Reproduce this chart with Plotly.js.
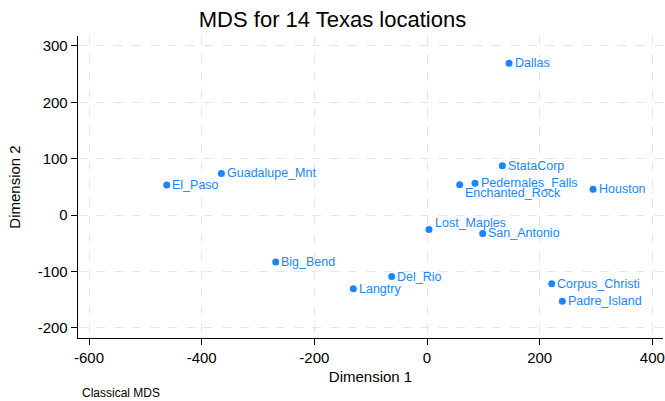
<!DOCTYPE html>
<html>
<head>
<meta charset="utf-8">
<script src="https://cdn.plot.ly/plotly-3.0.1.min.js"></script>
<style>html,body{margin:0;padding:0;background:#fff;}#chart{width:665px;height:401px;}</style>
</head>
<body>
<div id="chart"></div>
<script>
const locations = ["Dallas","StataCorp","Pedernales_Falls","Enchanted_Rock","Houston","Guadalupe_Mnt","El_Paso","Big_Bend","Langtry","Del_Rio","Lost_Maples","San_Antonio","Corpus_Christi","Padre_Island"];
const dim1 = [145.6, 133.7, 85.2, 58.0, 294.7, -365.0, -462.0, -268.6, -130.8, -62.7, 3.5, 98.8, 221.3, 240.2];
const dim2 = [269.0, 87.4, 56.2, 53.7, 45.6, 73.9, 53.2, -83.3, -130.7, -109.0, -25.4, -32.5, -121.8, -153.0];
const xTicks = [-600, -400, -200, 0, 200, 400];
const yTicks = [-200, -100, 0, 100, 200, 300];

// label placement offsets in pixels (style, not data)
const labelShift = {"Enchanted_Rock": -8, "Lost_Maples": 6.5};

const blue = "#1a85ff";
const FONT = "Liberation Sans, Arial, sans-serif";
const trace = {
  x: dim1, y: dim2, text: locations,
  type: "scatter", mode: "markers",
  marker: {color: blue, size: 7},
  hoverinfo: "none", cliponaxis: false
};
const labelAnnotations = locations.map((name, i) => ({
  x: dim1[i], y: dim2[i], xref: "x", yref: "y", text: name,
  showarrow: false, xanchor: "left", yanchor: "middle",
  xshift: 3.5, yshift: labelShift[name] || 0,
  font: {family: FONT, size: 12.5, color: blue}
}));
const axisCommon = {
  showline: true, linecolor: "#000", linewidth: 1.3,
  ticks: "outside", ticklen: 6, tickcolor: "#000", tickwidth: 1,
  showgrid: true, gridcolor: "#e6e6e6", griddash: "dash", gridwidth: 1,
  zeroline: false, mirror: false,
  tickfont: {family: FONT, size: 15, color: "#000"},
  tickmode: "array"
};
const layout = {
  width: 665, height: 401,
  margin: {l: 78, r: 2, t: 36, b: 63},
  paper_bgcolor: "#fff", plot_bgcolor: "#fff",
  showlegend: false,
  title: {text: "MDS for 14 Texas locations", x: 0.5, xref: "container", xanchor: "center",
          y: 1 - 19/401, yref: "container", yanchor: "middle",
          font: {family: FONT, size: 22, color: "#000"}},
  xaxis: Object.assign({}, axisCommon, {
    range: [-619.6, 418.9], tickvals: xTicks, ticktext: xTicks.map(String),
    title: {text: "Dimension 1", standoff: 6, font: {family: FONT, size: 15, color: "#000"}}
  }),
  yaxis: Object.assign({}, axisCommon, {
    range: [-218, 317.5], tickvals: yTicks, ticktext: yTicks.map(String),
    title: {text: "Dimension 2", standoff: 13, font: {family: FONT, size: 15, color: "#000"}}
  }),
  annotations: labelAnnotations.concat([{
    text: "Classical MDS", xref: "paper", yref: "paper", x: 0, y: -0.153,
    xanchor: "left", yanchor: "top", xshift: 2, showarrow: false,
    font: {family: FONT, size: 12, color: "#000"}
  }])
};
Plotly.newPlot("chart", [trace], layout, {staticPlot: true, displayModeBar: false});
</script>
</body>
</html>
